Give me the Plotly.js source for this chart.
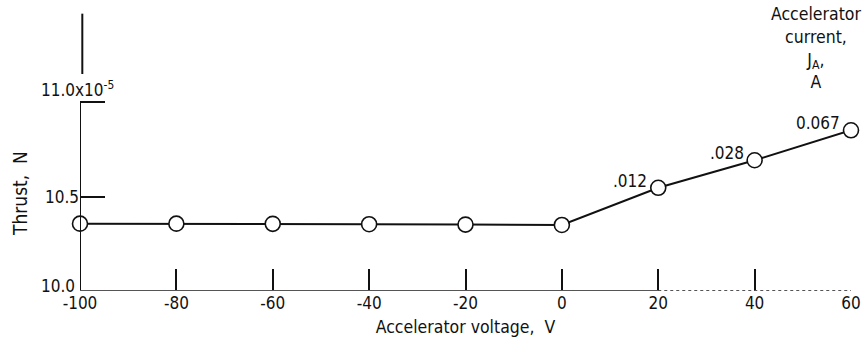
<!DOCTYPE html>
<html>
<head>
<meta charset="utf-8">
<script src="https://cdn.plot.ly/plotly-3.0.1.min.js"></script>
<style>html,body{margin:0;padding:0;background:#fff;}#chart{width:866px;height:343px;}</style>
</head>
<body>
<div id="chart"></div>
<script>
// Data
const voltage = [-100, -80, -60, -40, -20, 0, 20, 40, 60];
const thrust = [10.357, 10.357, 10.356, 10.354, 10.352, 10.350, 10.547, 10.693, 10.852];
const currentLabels = ["", "", "", "", "", "", ".012", ".028", "0.067"];
const xTicks = [-100, -80, -60, -40, -20, 0, 20, 40, 60];
const yTicks = [10.0, 10.5, 11.0];
const yTickText = ["", "10.5", ""];

const FONT = "'DejaVu Sans Condensed', 'Liberation Sans Narrow', sans-serif";

const trace = {
  x: voltage, y: thrust, mode: 'lines+markers',
  line: {color: '#111', width: 2},
  marker: {size: 15, color: '#fff', line: {color: '#111', width: 1.6}},
  cliponaxis: false, hoverinfo: 'skip'
};

const labelAnnotations = voltage
  .map((v, i) => ({v, t: thrust[i], s: currentLabels[i]}))
  .filter(d => d.s !== "")
  .map(d => ({
    xref: 'x', yref: 'y', x: d.v, y: d.t, xanchor: 'right', yanchor: 'middle',
    xshift: -9, yshift: 7, text: d.s, showarrow: false,
    font: {family: FONT, size: 17, color: '#111'}
  }));

const layout = {
  width: 866, height: 343,
  margin: {l: 80, r: 15, t: 8, b: 52},
  paper_bgcolor: '#fff', plot_bgcolor: '#fff',
  showlegend: false,
  font: {family: FONT, size: 17, color: '#111'},
  xaxis: {
    range: [-100, 60], tickvals: xTicks, ticktext: xTicks.map(String),
    ticks: 'inside', ticklen: 22, tickwidth: 2, tickcolor: '#111',
    showline: false, showgrid: false, zeroline: false,
    tickfont: {family: FONT, size: 17},
    title: {text: 'Accelerator voltage,  V', font: {family: FONT, size: 17.5}, standoff: 8}
  },
  yaxis: {
    range: [10.0, 11.5], tickvals: yTicks, ticktext: yTickText,
    ticks: 'inside', ticklen: 25, tickwidth: 2, tickcolor: '#111',
    showline: false, showgrid: false, zeroline: false,
    tickfont: {family: FONT, size: 17}
  },
  shapes: [
    {type: 'line', xref: 'x', yref: 'y', x0: -100, x1: -100, y0: 10.0, y1: 11.0, line: {color: '#111', width: 2}},
    {type: 'line', xref: 'paper', yref: 'y', x0: 0.003, x1: 0.003, y0: 11.15, y1: 11.47, line: {color: '#111', width: 2}},
    {type: 'line', xref: 'x', yref: 'y', x0: -100, x1: 20, y0: 10.0, y1: 10.0, line: {color: '#555', width: 2}},
    {type: 'line', xref: 'x', yref: 'y', x0: 20, x1: 60, y0: 10.0, y1: 10.0, line: {color: '#555', width: 2, dash: 'dot'}}
  ],
  annotations: labelAnnotations.concat([
    {xref: 'paper', yref: 'y', x: 0, y: 10.0, xanchor: 'right', yanchor: 'middle', xshift: -3, yshift: 5,
     text: '10.0', showarrow: false, font: {family: FONT, size: 17}},
    {xref: 'paper', yref: 'y', x: 0, y: 11.0, xanchor: 'right', yanchor: 'bottom', xshift: 36, yshift: 0,
     text: '11.0x10<sup>-5</sup>', showarrow: false, font: {family: FONT, size: 17}},
    {xref: 'paper', yref: 'paper', x: -0.078, y: 0.346, xanchor: 'center', yanchor: 'middle', textangle: -90,
     text: 'Thrust,  N', showarrow: false, font: {family: FONT, size: 19}},
    {xref: 'paper', yref: 'paper', x: 0.955, y: 1.0, xanchor: 'center', yanchor: 'top', yshift: 6,
     text: 'Accelerator<br>current,<br>J<sub>A</sub>,<br>A', showarrow: false, align: 'center',
     font: {family: FONT, size: 17.5}}
  ])
};

Plotly.newPlot('chart', [trace], layout, {displayModeBar: false, staticPlot: true});
</script>
</body>
</html>
